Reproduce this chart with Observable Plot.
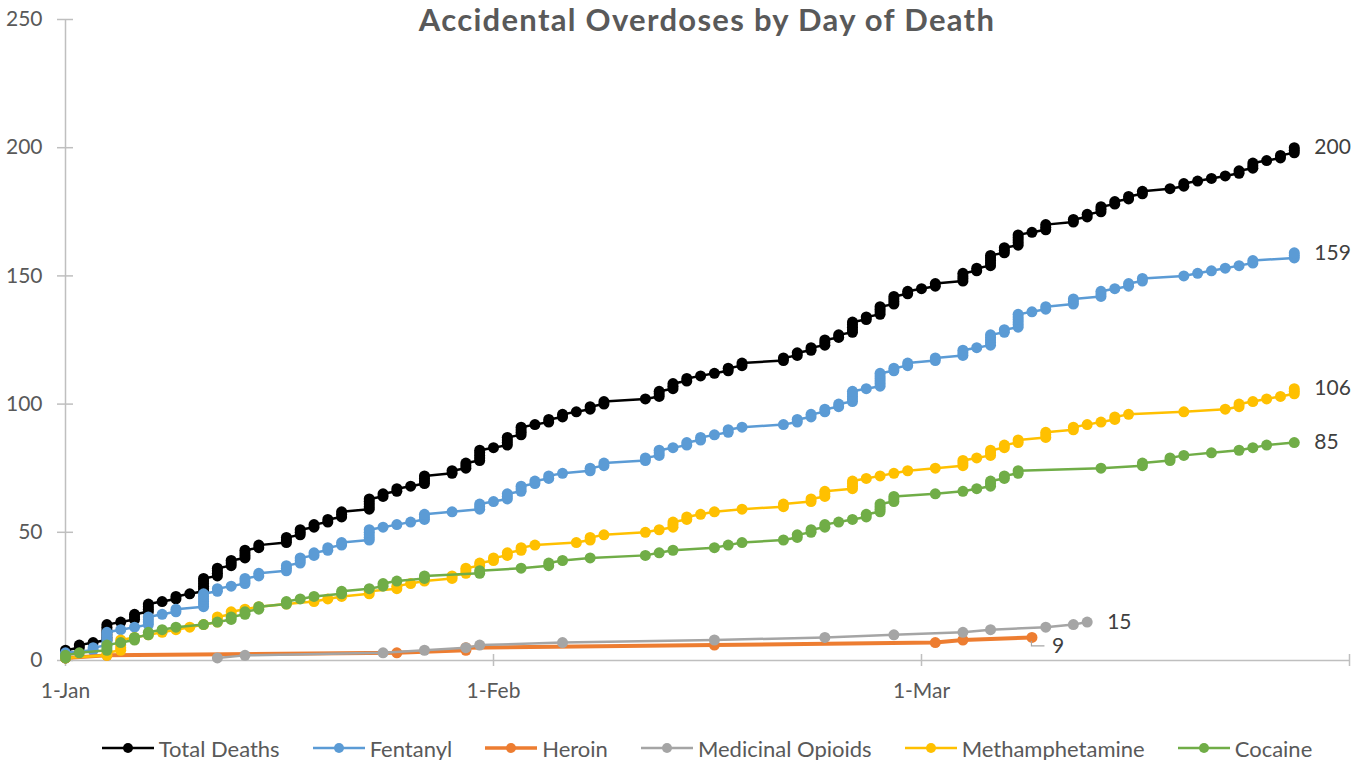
<!DOCTYPE html>
<html>
<head>
<meta charset="utf-8">
<script src="https://cdn.jsdelivr.net/npm/d3@7"></script>
<script src="https://cdn.jsdelivr.net/npm/@observablehq/plot@0.6"></script>
<style>
  body { margin: 0; background: #ffffff; width: 1361px; height: 760px; position: relative; overflow: hidden; font-family: Lato, "Open Sans", sans-serif; }
  #chart { position: absolute; left: 0; top: 0; }
  #title { position: absolute; left: 65px; width: 1284px; top: 0px; text-align: center; font-weight: 700; font-size: 31px; line-height: 38px; letter-spacing: 1.3px; color: #595959; }
  #legend { position: absolute; left: 65px; width: 1284px; top: 735px; height: 26px; display: flex; justify-content: center; align-items: center; gap: 33px; font-size: 22px; color: #595959; }
  .item { display: flex; align-items: center; white-space: nowrap; }
  .item svg { margin-right: 5px; }
</style>
</head>
<body>
<div id="chart"></div>
<div id="title">Accidental Overdoses by Day of Death</div>
<div id="legend"></div>
<script>
// Days are counted from 1-Jan; each pair is [day, cumulative deaths at end of that day]
const totalDeaths = [[0,4],[1,6],[2,7],[3,14],[4,15],[5,18],[6,22],[7,23],[8,25],[9,26],[10,32],[11,36],[12,39],[13,43],[14,45],[16,48],[17,51],[18,53],[19,55],[20,58],[22,63],[23,65],[24,67],[25,68],[26,72],[28,74],[29,77],[30,82],[31,83],[32,87],[33,91],[34,92],[35,94],[36,96],[37,97],[38,99],[39,101],[42,102],[43,105],[44,108],[45,110],[46,111],[47,112],[48,114],[49,116],[52,118],[53,120],[54,122],[55,125],[56,127],[57,132],[58,134],[59,138],[60,142],[61,144],[62,145],[63,147],[65,151],[66,153],[67,158],[68,161],[69,166],[70,167],[71,170],[73,172],[74,174],[75,177],[76,179],[77,181],[78,183],[80,184],[81,186],[82,187],[83,188],[84,189],[85,191],[86,194],[87,195],[88,197],[89,200]];
const fentanyl = [[0,3],[2,5],[3,11],[4,12],[5,13],[6,17],[7,18],[8,20],[10,26],[11,28],[12,29],[13,32],[14,34],[16,37],[17,40],[18,42],[19,44],[20,46],[22,51],[23,52],[24,53],[25,54],[26,57],[28,58],[30,61],[31,62],[32,65],[33,68],[34,70],[35,72],[36,73],[38,75],[39,77],[42,79],[43,82],[44,83],[45,85],[46,87],[47,88],[48,90],[49,91],[52,92],[53,94],[54,96],[55,98],[56,100],[57,105],[58,106],[59,112],[60,114],[61,116],[63,118],[65,121],[66,122],[67,127],[68,129],[69,135],[70,136],[71,138],[73,141],[75,144],[76,145],[77,147],[78,149],[81,150],[82,151],[83,152],[84,153],[85,154],[86,156],[89,159]];
const heroin = [[0,1],[3,2],[24,3],[29,5],[47,6],[63,7],[65,8],[70,9]];
const medicinalOpioids = [[11,1],[13,2],[23,3],[26,4],[29,5],[30,6],[36,7],[47,8],[55,9],[60,10],[65,11],[67,12],[71,13],[73,14],[74,15]];
const methamphetamine = [[0,1],[3,3],[4,8],[5,9],[6,10],[7,11],[8,12],[9,13],[10,14],[11,17],[12,19],[13,20],[14,21],[16,22],[18,23],[19,24],[20,25],[22,27],[24,29],[25,30],[26,31],[28,33],[29,36],[30,38],[31,40],[32,42],[33,44],[34,45],[37,46],[38,48],[39,49],[42,50],[43,51],[44,54],[45,56],[46,57],[47,58],[49,59],[52,61],[54,63],[55,66],[57,70],[58,71],[59,72],[60,73],[61,74],[63,75],[65,78],[66,79],[67,82],[68,84],[69,86],[71,89],[73,91],[74,92],[75,93],[76,95],[77,96],[81,97],[84,98],[85,100],[86,101],[87,102],[88,103],[89,106]];
const cocaine = [[0,2],[1,3],[3,6],[4,7],[5,9],[6,11],[7,12],[8,13],[10,14],[11,15],[12,17],[13,19],[14,21],[16,23],[17,24],[18,25],[20,27],[22,28],[23,30],[24,31],[26,33],[30,35],[33,36],[35,38],[36,39],[38,40],[42,41],[43,42],[44,43],[47,44],[48,45],[49,46],[52,47],[53,49],[54,51],[55,53],[56,54],[57,55],[58,57],[59,61],[60,64],[63,65],[65,66],[66,67],[67,70],[68,72],[69,74],[75,75],[78,77],[80,79],[81,80],[83,81],[85,82],[86,83],[87,84],[89,85]];

const seriesNames = ["Total Deaths", "Fentanyl", "Heroin", "Medicinal Opioids", "Methamphetamine", "Cocaine"];
const seriesColors = ["#000000", "#5b9bd5", "#ed7d31", "#a5a5a5", "#ffc000", "#70ad47"];
const seriesData = [totalDeaths, fentanyl, heroin, medicinalOpioids, methamphetamine, cocaine];

const xTickDays = [0, 31, 62, 93];
const xTickLabels = ["1-Jan", "1-Feb", "1-Mar", ""];
const yTicks = [0, 50, 100, 150, 200, 250];

// one point per death: stacked at its day
function expand(pairs, name) {
  const out = [];
  let prev = 0;
  for (const [day, cum] of pairs) {
    for (let v = prev + 1; v <= cum; v++) out.push({ series: name, day, value: v });
    prev = cum;
  }
  return out;
}
const points = seriesData.map((p, i) => expand(p, seriesNames[i]));

const endLabels = seriesData.map((p, i) => ({ series: seriesNames[i], day: p[p.length - 1][0], value: p[p.length - 1][1] }));
const heroinLabel = endLabels.filter(d => d.series === "Heroin");
const otherLabels = endLabels.filter(d => d.series !== "Heroin");

const axisColor = "#bfbfbf";
const marks = [
  Plot.ruleX([0], { stroke: axisColor, strokeWidth: 1.5 }),
  Plot.ruleY([0], { stroke: axisColor, strokeWidth: 1.5 }),
  Plot.axisY(yTicks, { tickSize: 8, tickPadding: 15, stroke: axisColor, strokeWidth: 1.5, label: null }),
  Plot.axisY(yTicks, { tickSize: 8, dx: 8, stroke: axisColor, strokeWidth: 1.5, tickFormat: () => "", label: null }),
  Plot.axisX(xTickDays, { tickSize: 6, tickPadding: 17, stroke: axisColor, strokeWidth: 1.5, tickFormat: d => xTickLabels[xTickDays.indexOf(d)], label: null }),
  Plot.axisX(xTickDays, { tickSize: 6, dy: -6, stroke: axisColor, strokeWidth: 1.5, tickFormat: () => "", label: null })
];
points.forEach((pts, i) => {
  marks.push(Plot.line(pts, { x: "day", y: "value", stroke: seriesColors[i], strokeWidth: seriesNames[i] === "Heroin" ? 4 : 2.5, curve: "linear" }));
  marks.push(Plot.dot(pts, { x: "day", y: "value", r: 5.5, fill: seriesColors[i], stroke: "none" }));
});
marks.push(Plot.text(otherLabels, { x: "day", y: "value", text: d => String(d.value), dx: 20, textAnchor: "start", fill: "#404040", fontSize: 21 }));
marks.push(Plot.text(heroinLabel, { x: "day", y: "value", text: d => String(d.value), dx: 20, dy: 9, textAnchor: "start", fill: "#404040", fontSize: 21 }));

const chart = Plot.plot({
  width: 1361,
  height: 719,
  marginLeft: 65,
  marginRight: 12,
  marginTop: 19,
  marginBottom: 59,
  style: { fontFamily: "Lato, 'Open Sans', sans-serif", fontSize: "21px", color: "#595959", background: "#ffffff", overflow: "visible" },
  x: { type: "linear", domain: [0, 93] },
  y: { type: "linear", domain: [0, 250] },
  marks
});
document.getElementById("chart").appendChild(chart);

// leader line for the Heroin data label, positioned through the plot's scales
const sx = chart.scale("x"), sy = chart.scale("y");
const hl = heroinLabel[0];
const px = sx.apply(hl.day), py = sy.apply(hl.value);
d3.select(chart).append("path")
  .attr("d", `M${px},${py + 4}V${py + 9}H${px + 13}`)
  .attr("fill", "none").attr("stroke", "#a6a6a6").attr("stroke-width", 1.2);

// legend
const legend = d3.select("#legend");
seriesNames.forEach((name, i) => {
  const item = legend.append("div").attr("class", "item");
  const s = item.append("svg").attr("width", 52).attr("height", 14);
  s.append("line").attr("x1", 0).attr("x2", 52).attr("y1", 7).attr("y2", 7).attr("stroke", seriesColors[i]).attr("stroke-width", name === "Heroin" ? 3.5 : 2.5);
  s.append("circle").attr("cx", 26).attr("cy", 7).attr("r", 5).attr("fill", seriesColors[i]);
  item.append("span").text(name);
});
</script>
</body>
</html>
